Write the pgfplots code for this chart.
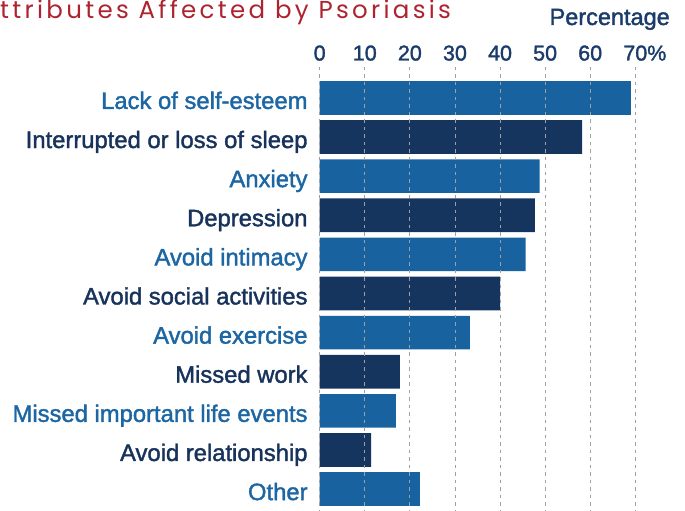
\documentclass[border=0pt]{standalone}
\usepackage{fontspec}
\setmainfont{Liberation Sans}
\newfontfamily\medfont[FakeBold=1.6]{Liberation Sans}
\newfontfamily\titlefont[LetterSpace=13.5]{Poppins}
\usepackage{pgfplots}
\pgfplotsset{compat=1.18}
\definecolor{lightbar}{HTML}{17629F}
\definecolor{darkbar}{HTML}{15355F}
\definecolor{lightlab}{HTML}{1C66A3}
\definecolor{darklab}{HTML}{17335C}
\definecolor{ticknavy}{HTML}{1B3C6B}
\definecolor{titlered}{HTML}{AE2330}
\definecolor{gridgray}{HTML}{A0A0A0}
\begin{document}
\begin{tikzpicture}[x=1pt,y=1pt]
\useasboundingbox (0,0) rectangle (685,511);
\node[anchor=base west, inner sep=0pt, text=titlered, font=\titlefont\fontsize{24.5}{28}\selectfont] at (0,492.7) {ttributes Affected by Psoriasis};
\node[anchor=base east, inner sep=0pt, text=ticknavy, font=\medfont\fontsize{23.5}{28}\selectfont] at (670,486) {Percentage};
\begin{axis}[
  at={(319.7pt,0pt)}, anchor=south west,
  scale only axis, width=315.6pt, height=444pt,
  xmin=0, xmax=70, ymin=-0.79, ymax=10.56, y dir=reverse,
  xbar, bar width=33.7pt,
  axis line style={draw=none}, major tick style={draw=none},
  xtick={0,10,20,30,40,50,60,70},
  xticklabels={0,10,20,30,40,50,60,70\rlap{\%}},
  xticklabel pos=upper,
  xticklabel style={anchor=base, inner sep=0pt, yshift=6.5pt, text=ticknavy, font=\medfont\fontsize{21.5}{25}\selectfont},
  ytick={0,1,2,3,4,5,6,7,8,9,10},
  yticklabels={
    \textcolor{lightlab}{Lack of self-esteem},
    \textcolor{darklab}{Interrupted or loss of sleep},
    \textcolor{lightlab}{Anxiety},
    \textcolor{darklab}{Depression},
    \textcolor{lightlab}{Avoid intimacy},
    \textcolor{darklab}{Avoid social activities},
    \textcolor{lightlab}{Avoid exercise},
    \textcolor{darklab}{Missed work},
    \textcolor{lightlab}{Missed important life events},
    \textcolor{darklab}{Avoid relationship},
    \textcolor{lightlab}{Other}},
  yticklabel style={anchor=base east, inner sep=0pt, xshift=-7.7pt, yshift=-11pt, font=\medfont\fontsize{23.8}{28}\selectfont},
  xmajorgrids,
  grid style={gridgray, line width=0.9pt, dash pattern=on 3.5pt off 4pt},
  axis on top,
]
\addplot[fill=lightbar, draw=none, bar shift=0pt] coordinates {
  (69.0,0) (48.8,2) (45.7,4) (33.3,6) (16.9,8) (22.2,10)};
\addplot[fill=darkbar, draw=none, bar shift=0pt] coordinates {
  (58.2,1) (47.7,3) (40.0,5) (17.8,7) (11.4,9)};
\end{axis}
\end{tikzpicture}
\end{document}
